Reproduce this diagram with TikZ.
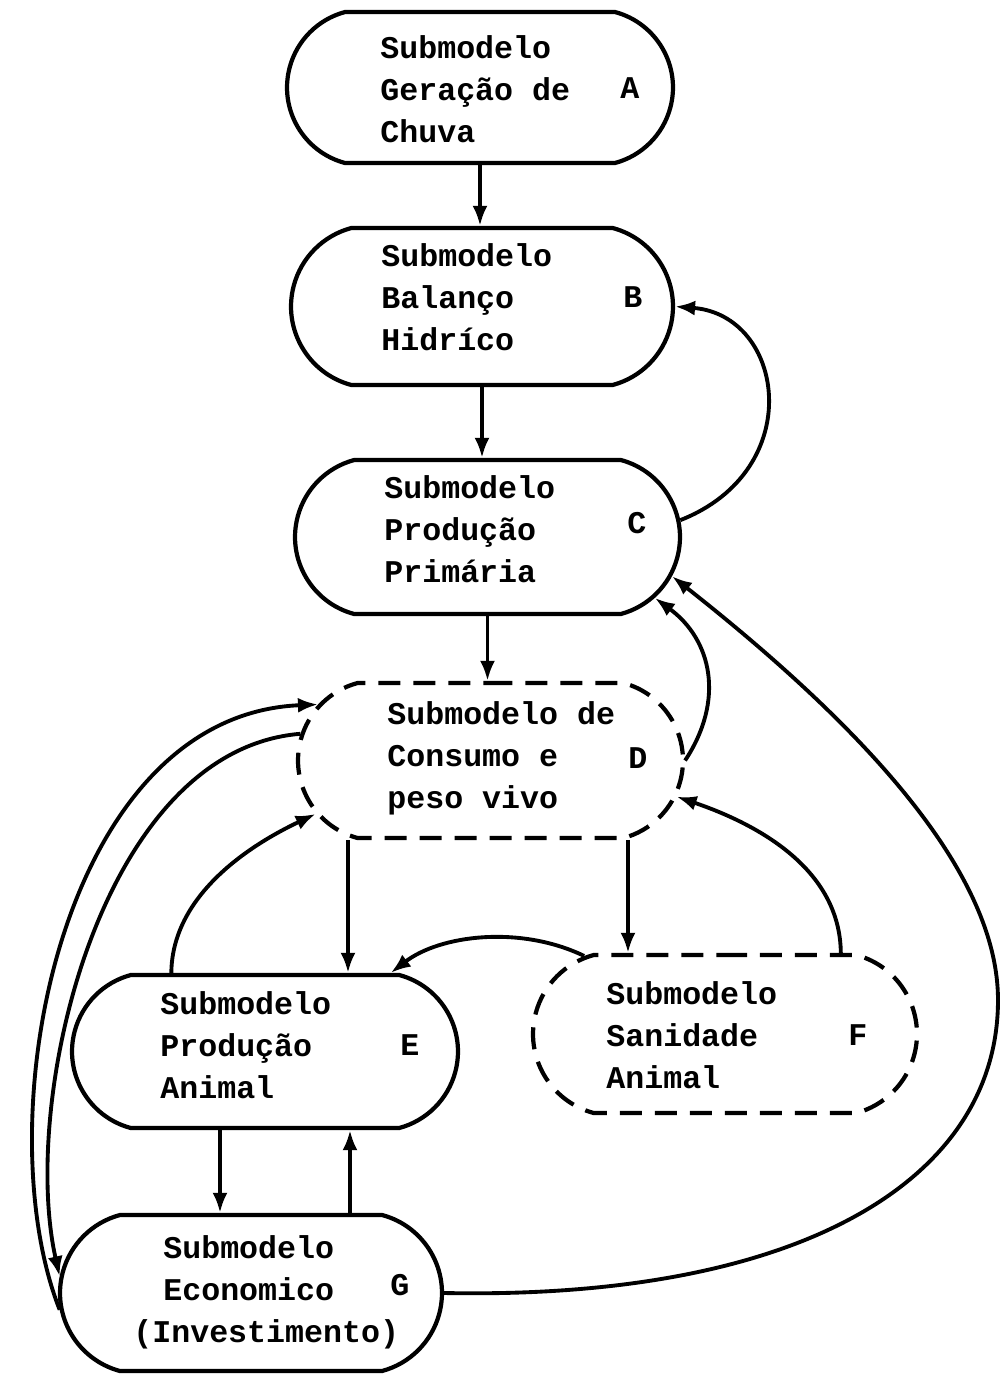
\documentclass[tikz,border=0pt]{standalone}
\usepackage{fontspec}
\setmonofont{Liberation Mono}
\usetikzlibrary{shapes.misc,arrows.meta}

\begin{document}
\begin{tikzpicture}[x=0.02cm,y=-0.02cm,
  box/.style={draw, rounded rectangle, rounded rectangle arc length=150,
    inner sep=0pt, line width=2.4pt},
  dbox/.style={box, dash pattern=on 0.44cm off 0.26cm},
  txt/.style={anchor=west, align=left, inner sep=0pt,
    font=\ttfamily\bfseries\fontsize{18}{23.8}\selectfont},
  tag/.style={anchor=west, inner sep=0pt,
    font=\ttfamily\bfseries\fontsize{18}{23.8}\selectfont},
  arr/.style={line width=2.2pt, -{Latex[length=0.4cm,width=0.3cm]}}]
\useasboundingbox (0,0) rectangle (1001,1377);

% submodel boxes
\node[box, minimum width=7.72cm, minimum height=3.02cm] (A) at (480,87.5) {};
\node[box, minimum width=7.64cm, minimum height=3.14cm] (B) at (482,306.5) {};
\node[box, minimum width=7.70cm, minimum height=3.08cm] (C) at (487.5,537) {};
\node[dbox, minimum width=7.70cm, minimum height=3.10cm] (D) at (490.5,760.5) {};
\node[box, minimum width=7.72cm, minimum height=3.06cm] (E) at (265,1051.5) {};
\node[dbox, minimum width=7.68cm, minimum height=3.16cm] (F) at (725,1034) {};
\node[box, minimum width=7.64cm, minimum height=3.12cm] (G) at (251,1293) {};

% box texts
\node[txt] (At) at (380,89) {Submodelo\\Geração de\\Chuva};
\node[tag] (Al) at (620,88) {A};
\node[txt] (Bt) at (381,297) {Submodelo\\Balanço\\Hidríco};
\node[tag] (Bl) at (623,297) {B};
\node[txt] (Ct) at (384,529) {Submodelo\\Produção\\Primária};
\node[tag] (Cl) at (627,523) {C};
\node[txt] (Dt) at (387,758) {Submodelo de\\Consumo e\\peso vivo};
\node[tag] (Dl) at (628,758) {D};
\node[txt] (Et) at (160,1045) {Submodelo\\Produção\\Animal};
\node[tag] (El) at (400,1045) {E};
\node[txt] (Ft) at (606,1035) {Submodelo\\Sanidade\\Animal};
\node[tag] (Fl) at (848,1035) {F};
\node[txt] (Gt) at (133,1292) {\hspace*{0.6cm}Submodelo\\\hspace*{0.6cm}Economico\\(Investimento)};
\node[tag] (Gl) at (390,1285) {G};

% columns of the vertical connectors
\coordinate (xde) at (348,0);
\coordinate (xdf) at (628,0);
\coordinate (xeg) at (220,0);
\coordinate (xge) at (350,0);
\coordinate (gc) at (998,1000);

% straight flows
\draw[arr] (A.south) -- (A.south |- B.north);
\draw[arr] (B.south) -- (B.south |- C.north);
\draw[arr] (C.south) -- (C.south |- D.north);
\draw[arr] (xde |- D.south) -- (xde |- E.north);
\draw[arr] (xdf |- D.south) -- (xdf |- F.north);
\draw[arr] (xeg |- E.south) -- (xeg |- G.north);
\draw[arr] (xge |- G.north) -- (xge |- E.south);

% feedback loops
\draw[arr] (C.5) .. controls (808,470) and (785,315) .. (B.east);
\draw[arr] (D.east) .. controls (725,700) and (712,640) .. (C.-20);
\draw[arr] (G.east) .. controls (800,1300) and (998,1180) .. (gc)
  .. controls (998,880) and (880,740) .. (C.-12);
\draw[arr] (F.151) .. controls (520,925) and (440,935) .. (E.32);
\draw[arr] (F.35) .. controls (840,870) and (760,825) .. (D.-11);
\draw[arr] (E.140) .. controls (172,895) and (250,845) .. (D.197);
\draw[arr] (G.185) .. controls (-15,1120) and (60,715) .. (D.162);
\draw[arr] (D.172) .. controls (100,750) and (20,1100) .. (G.175);
\end{tikzpicture}
\end{document}
